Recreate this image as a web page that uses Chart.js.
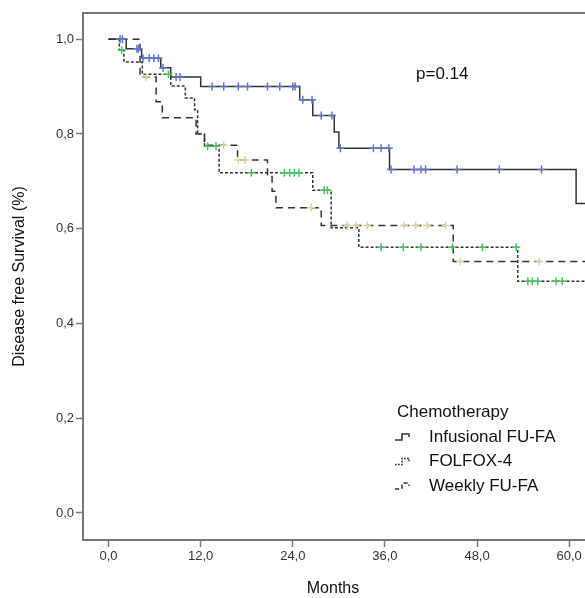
<!DOCTYPE html>
<html>
<head>
<meta charset="utf-8">
<script src="https://cdn.jsdelivr.net/npm/chart.js@4"></script>
<style>
  html, body { margin: 0; padding: 0; background: #fff; overflow: hidden; }
  canvas { display: block; }
</style>
</head>
<body>
<canvas id="km" width="610" height="598"></canvas>
<script>
// axis ticks
const xTicks = [0, 12, 24, 36, 48, 60]
const yTicks = [0, 0.2, 0.4, 0.6, 0.8, 1.0]
// the plot runs on past the right edge of the picture
const followUpEnd = 66

// Infusional FU-FA: event times (months), survival after event, censored times
const infusionalTimes = [0, 2.3, 4.3, 6.8, 8.1, 12.0, 24.9, 26.6, 29.4, 30.0, 36.6, 60.9]
const infusionalSurv = [1.0, 0.98, 0.96, 0.94, 0.92, 0.9, 0.872, 0.839, 0.804, 0.77, 0.725, 0.653]
const infusionalCensored = [1.5, 1.8, 3.7, 3.9, 4.5, 5.3, 5.9, 6.5, 7.1, 8.8, 9.3,
  13.5, 15.0, 16.9, 18.1, 20.7, 22.3, 24.0, 24.3, 25.3, 26.5, 27.7, 29.1,
  30.2, 34.5, 35.5, 36.5, 36.8, 39.8, 40.7, 41.3, 45.4, 50.9, 56.4]

// FOLFOX-4
const folfoxTimes = [0, 1.4, 2.0, 4.4, 8.1, 10.0, 11.2, 11.6, 12.5, 14.4, 26.6, 29.0, 32.6, 53.3]
const folfoxSurv = [1.0, 0.977, 0.952, 0.926, 0.901, 0.876, 0.851, 0.8, 0.774, 0.718, 0.681, 0.602, 0.561, 0.489]
const folfoxCensored = [1.7, 7.8, 12.9, 14.0, 18.6, 22.9, 23.6, 24.2, 24.8, 28.1, 28.5,
  35.5, 38.4, 40.7, 44.8, 48.7, 53.1, 54.6, 55.2, 55.9, 58.3, 59.1]

// Weekly FU-FA
const weeklyTimes = [0, 4.1, 6.2, 7.0, 11.4, 12.5, 16.8, 20.7, 21.3, 21.8, 27.7, 44.9]
const weeklySurv = [1.0, 0.92, 0.868, 0.834, 0.8, 0.776, 0.745, 0.71, 0.679, 0.644, 0.607, 0.531]
const weeklyCensored = [4.9, 15.0, 16.9, 17.8, 26.4, 31.1, 32.2, 33.7, 38.5, 40.0, 41.5, 43.9, 45.8, 56.1]

const font = "'Liberation Sans', Arial, sans-serif"
const frameColor = "#777"
const lineColor = "#333"

const groups = [
  { label: "Infusional FU-FA", times: infusionalTimes, surv: infusionalSurv, censored: infusionalCensored, dash: [], mark: "#5a78c8" },
  { label: "FOLFOX-4", times: folfoxTimes, surv: folfoxSurv, censored: folfoxCensored, dash: [3, 2], mark: "#44c85a" },
  { label: "Weekly FU-FA", times: weeklyTimes, surv: weeklySurv, censored: weeklyCensored, dash: [7, 5], mark: "#ddd49c" },
]

// survival value of a step curve at time t
const survAt = (times, surv, t) => {
  let s = surv[0]
  times.forEach((ti, i) => { if (ti <= t) s = surv[i] })
  return s
}

const datasets = []
groups.forEach((g) => {
  const pts = g.times.map((t, i) => ({ x: t, y: g.surv[i] }))
  pts.push({ x: followUpEnd, y: g.surv[g.surv.length - 1] })
  datasets.push({
    type: "line",
    data: pts,
    stepped: true,
    borderColor: lineColor,
    borderWidth: 1.5,
    borderDash: g.dash,
    pointRadius: 0,
    fill: false,
    order: 2,
  })
})
groups.forEach((g) => {
  datasets.push({
    type: "scatter",
    data: g.censored.map((t) => ({ x: t, y: survAt(g.times, g.surv, t) })),
    pointStyle: "cross",
    pointRadius: 4,
    borderColor: g.mark,
    borderWidth: 1.5,
    order: 1,
  })
})

const comma = (v) => v.toFixed(1).replace(".", ",")

const annotations = {
  id: "annotations",
  afterDraw(chart) {
    const { ctx, chartArea } = chart
    ctx.save()
    ctx.strokeStyle = frameColor
    ctx.lineWidth = 2
    ctx.beginPath()
    ctx.moveTo(chartArea.left, chartArea.top)
    ctx.lineTo(chartArea.right, chartArea.top)
    ctx.stroke()

    ctx.fillStyle = "#111"
    ctx.textBaseline = "middle"
    // x axis title, centred on the visible part of the axis
    ctx.font = "16px " + font
    ctx.textAlign = "center"
    ctx.fillText("Months", 333, 589)

    ctx.textAlign = "left"
    ctx.font = "17px " + font
    ctx.fillText("p=0.14", 416, 74)

    ctx.fillText("Chemotherapy", 397, 412)
    groups.forEach((g, i) => {
      const y = 437 + i * 24.5
      ctx.fillText(g.label, 429, y)
      ctx.strokeStyle = lineColor
      ctx.lineWidth = 1.5
      ctx.setLineDash(g.dash.length ? [g.dash[0] * 0.6, g.dash[1] * 0.6] : [])
      ctx.beginPath()
      ctx.moveTo(395, y + 3)
      ctx.lineTo(402, y + 3)
      ctx.lineTo(402, y - 3)
      ctx.lineTo(409, y - 3)
      ctx.lineTo(409, y)
      ctx.stroke()
    })
    ctx.restore()
  },
}

new Chart(document.getElementById("km"), {
  data: { datasets: datasets },
  options: {
    responsive: false,
    animation: false,
    layout: { padding: { top: 13, left: 0, right: 0, bottom: 0 } },
    plugins: { legend: { display: false }, tooltip: { enabled: false } },
    scales: {
      x: {
        type: "linear",
        min: -3.33,
        max: 64.6,
        afterBuildTicks: (axis) => { axis.ticks = xTicks.map((v) => ({ value: v })) },
        afterFit: (axis) => { axis.height = 58 },
        ticks: { callback: (v) => comma(v), color: "#333", font: { family: font, size: 13 }, padding: 2, maxRotation: 0 },
        grid: { drawOnChartArea: false, tickLength: 7, tickColor: frameColor, tickWidth: 1.5 },
        border: { color: frameColor, width: 2 },
        title: { display: false },
      },
      y: {
        type: "linear",
        min: -0.057,
        max: 1.0553,
        afterBuildTicks: (axis) => { axis.ticks = yTicks.map((v) => ({ value: v })) },
        afterFit: (axis) => { axis.width = 83 },
        ticks: { callback: (v) => comma(v), color: "#333", font: { family: font, size: 13 }, padding: 2 },
        grid: { drawOnChartArea: false, tickLength: 7, tickColor: frameColor, tickWidth: 1.5 },
        border: { color: frameColor, width: 2 },
        title: { display: true, text: "Disease free Survival (%)", color: "#111", font: { family: font, size: 16 }, padding: { top: 10, bottom: 0 } },
      },
    },
  },
  plugins: [annotations],
})
</script>
</body>
</html>
